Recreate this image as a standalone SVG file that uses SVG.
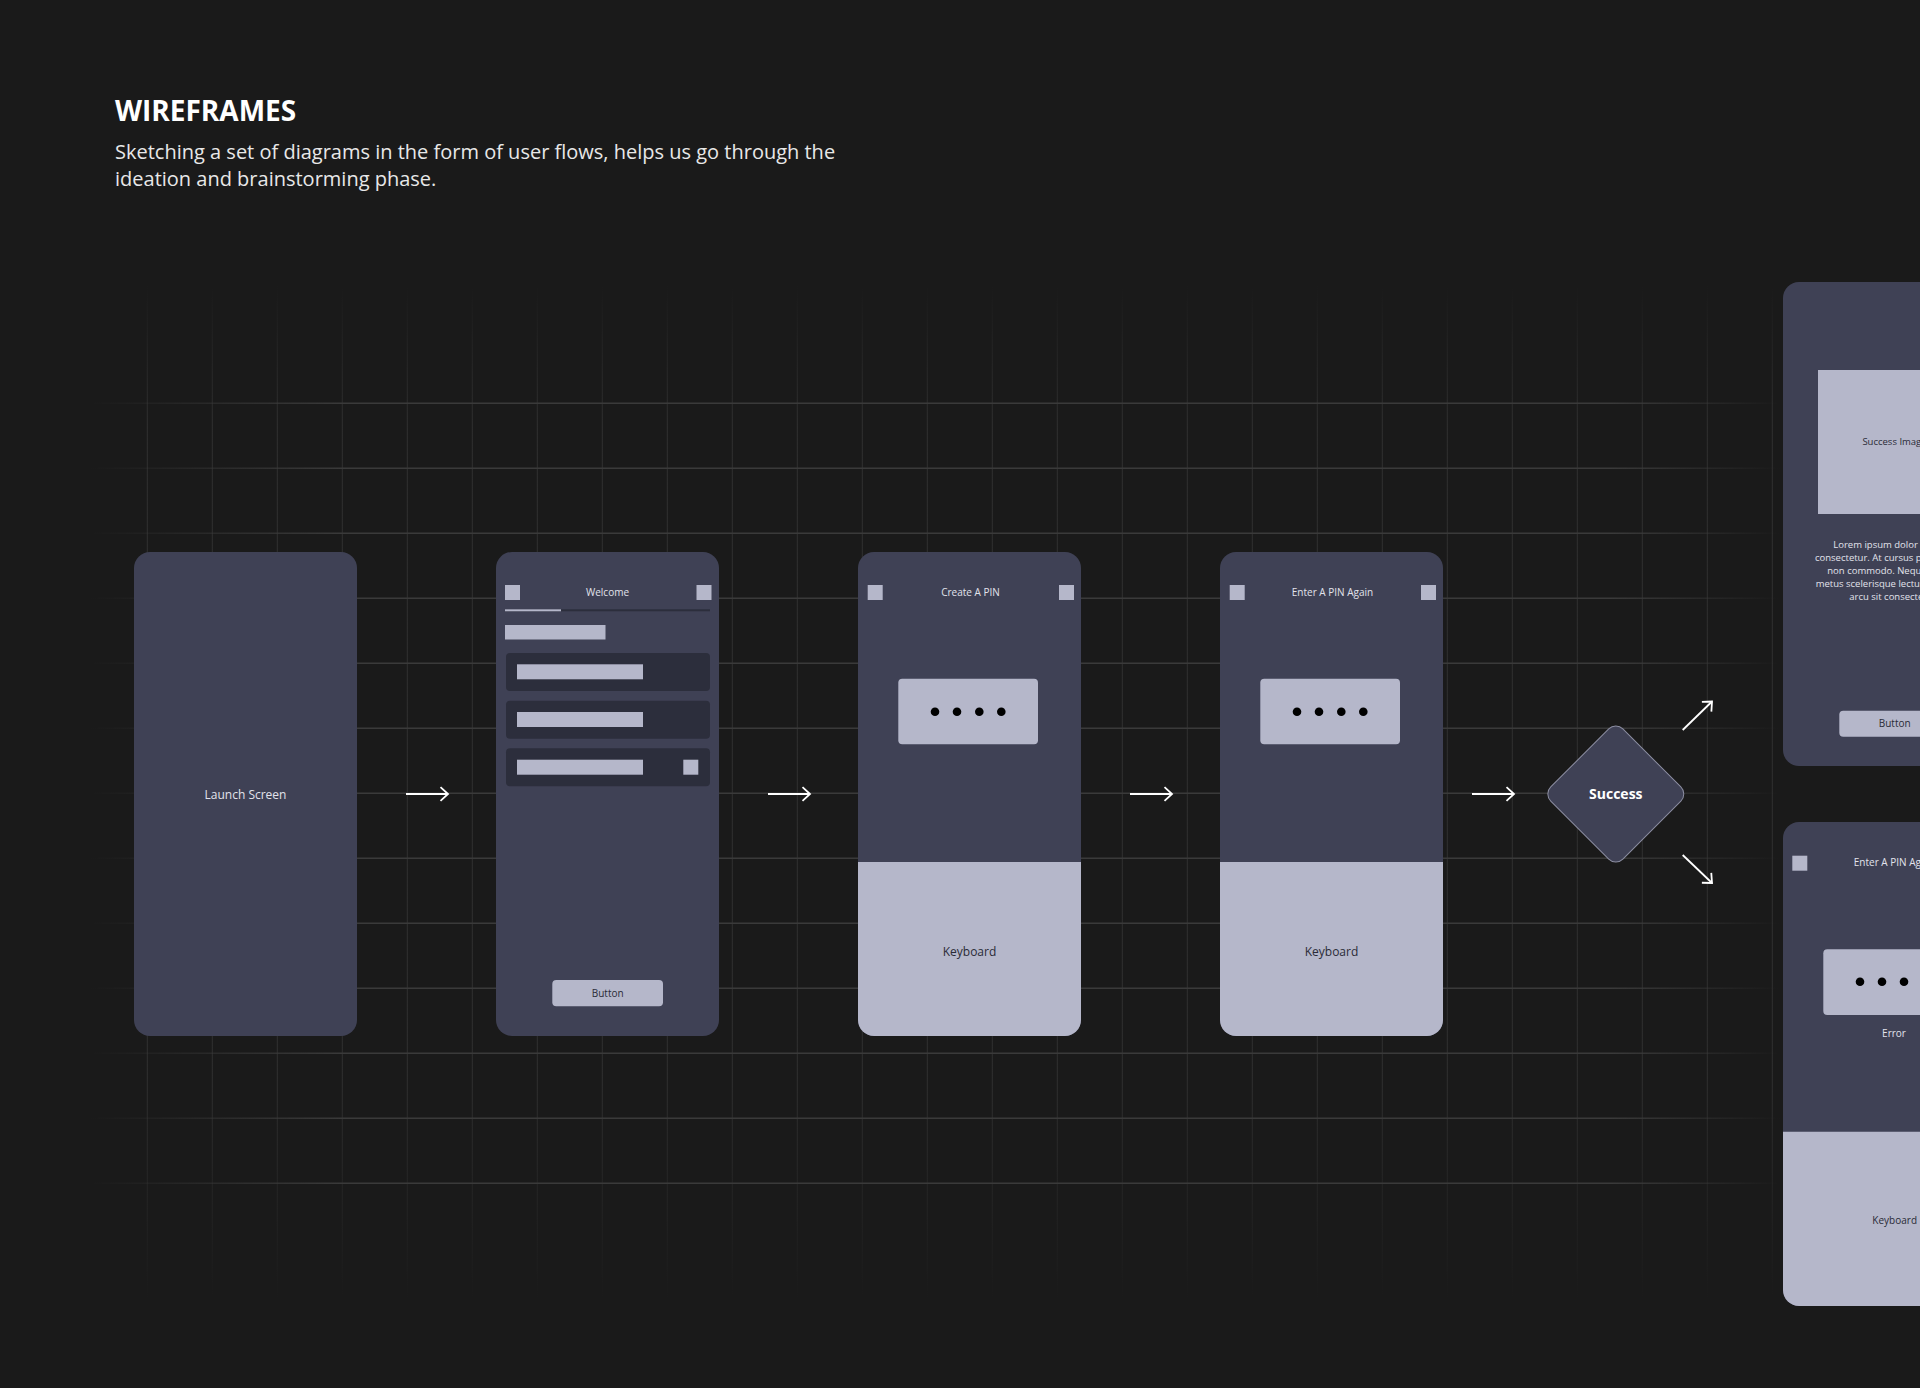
<svg xmlns="http://www.w3.org/2000/svg" width="1920" height="1388" viewBox="0 0 1920 1388">
<defs>
<style>
.bg{fill:#1a1a1a}
.node{fill:#3f4155}
.light{fill:#b5b7ca}
.dark{fill:#2c2e3c}
.hl{stroke:url(#hg);stroke-width:1.6;fill:none}
.vl{stroke:url(#vg);stroke-width:1;fill:none}
.t{font-family:"Open Sans","Noto Sans","Liberation Sans",sans-serif}
.lbl{font-size:10px;fill:#e2e3ec;text-anchor:middle}
.lbl12{font-size:12px;fill:#e2e3ec;text-anchor:middle}
.dlbl{font-size:12px;fill:#2a2b37;text-anchor:middle}
.btn{font-size:10px;fill:#2a2b37;text-anchor:middle}
.conn{stroke:#ffffff;stroke-width:1.8;fill:none;marker-end:url(#arr)}
.dot{fill:#000}
</style>
<linearGradient id="hg" gradientUnits="userSpaceOnUse" x1="90" y1="0" x2="1780" y2="0">
<stop offset="0" stop-color="#3a3a3a" stop-opacity="0"/>
<stop offset="0.15" stop-color="#3a3a3a" stop-opacity="1"/>
<stop offset="0.9" stop-color="#3a3a3a" stop-opacity="1"/>
<stop offset="1" stop-color="#3a3a3a" stop-opacity="0"/>
</linearGradient>
<linearGradient id="vg" gradientUnits="userSpaceOnUse" x1="0" y1="285" x2="0" y2="1300">
<stop offset="0" stop-color="#303030" stop-opacity="0"/>
<stop offset="0.14" stop-color="#303030" stop-opacity="1"/>
<stop offset="0.78" stop-color="#303030" stop-opacity="1"/>
<stop offset="1" stop-color="#303030" stop-opacity="0"/>
</linearGradient>
<marker id="arr" markerUnits="userSpaceOnUse" markerWidth="16" markerHeight="16" viewBox="0 0 16 16" refX="14" refY="8" orient="auto">
<path d="M6.5,1.2 L14,8 L6.5,14.8" fill="none" stroke="#ffffff" stroke-width="1.8"/>
</marker>
</defs>
<rect class="bg" x="0" y="0" width="1920" height="1388"/>

<g id="header" class="t">
<text x="115" y="121" font-size="28" font-weight="700" fill="#ffffff">WIREFRAMES</text>
<text x="115" y="158.5" font-size="20" fill="#e8e8e8">Sketching a set of diagrams in the form of user flows, helps us go through the</text>
<text x="115" y="185.5" font-size="20" fill="#e8e8e8">ideation and brainstorming phase.</text>
</g>

<g id="grid">
<path class="vl" d="M147.3,285V1300M212.3,285V1300M277.3,285V1300M342.3,285V1300M407.3,285V1300M472.3,285V1300M537.3,285V1300M602.3,285V1300M667.3,285V1300M732.3,285V1300M797.3,285V1300M862.3,285V1300M927.3,285V1300M992.3,285V1300M1057.3,285V1300M1122.3,285V1300M1187.3,285V1300M1252.3,285V1300M1317.3,285V1300M1382.3,285V1300M1447.3,285V1300M1512.3,285V1300M1577.3,285V1300M1642.3,285V1300M1707.3,285V1300M1772.3,285V1300"/>
<path class="hl" d="M90,403.3H1780M90,468.3H1780M90,533.3H1780M90,598.3H1780M90,663.3H1780M90,728.3H1780M90,793.3H1780M90,858.3H1780M90,923.3H1780M90,988.3H1780M90,1053.3H1780M90,1118.3H1780M90,1183.3H1780"/>
</g>

<g id="launch-screen" class="t">
<rect class="node" x="134" y="552" width="223" height="484" rx="16"/>
<text class="lbl12" x="245.5" y="799">Launch Screen</text>
</g>

<g id="welcome" class="t">
<rect class="node" x="496" y="552" width="223" height="484" rx="16"/>
<rect class="light" x="505" y="585" width="15" height="15"/>
<rect class="light" x="696.5" y="585" width="15" height="15"/>
<text class="lbl" x="607.5" y="596">Welcome</text>
<rect class="dark" x="505" y="609.3" width="205" height="2"/>
<rect class="light" x="505" y="609.3" width="56" height="2"/>
<rect class="light" x="505" y="625" width="100.5" height="14.5"/>
<rect class="dark" x="506" y="653" width="204" height="38" rx="4"/>
<rect class="light" x="517" y="664.3" width="126" height="15"/>
<rect class="dark" x="506" y="700.7" width="204" height="38" rx="4"/>
<rect class="light" x="517" y="712" width="126" height="15"/>
<rect class="dark" x="506" y="748.3" width="204" height="38" rx="4"/>
<rect class="light" x="517" y="759.7" width="126" height="15"/>
<rect class="light" x="683.3" y="759.7" width="15" height="15"/>
<rect class="light" x="552.3" y="980" width="110.7" height="26.3" rx="4"/>
<text class="btn" x="607.7" y="996.7">Button</text>
</g>

<g id="create-pin" class="t">
<rect class="node" x="858" y="552" width="223" height="484" rx="16"/>
<rect class="light" x="867.7" y="585" width="15" height="15"/>
<rect class="light" x="1059" y="585" width="15" height="15"/>
<text class="lbl" x="970.5" y="596">Create A PIN</text>
<rect class="light" x="898.3" y="678.7" width="139.7" height="65.6" rx="4"/>
<circle class="dot" cx="935" cy="711.7" r="4.3"/>
<circle class="dot" cx="957" cy="711.7" r="4.3"/>
<circle class="dot" cx="979.3" cy="711.7" r="4.3"/>
<circle class="dot" cx="1001.3" cy="711.7" r="4.3"/>
<path class="light" d="M858,862H1081V1020a16,16 0 0 1 -16,16H874a16,16 0 0 1 -16,-16Z"/>
<text class="dlbl" x="969.5" y="956">Keyboard</text>
</g>

<g id="enter-pin-again" class="t">
<rect class="node" x="1220" y="552" width="223" height="484" rx="16"/>
<rect class="light" x="1229.7" y="585" width="15" height="15"/>
<rect class="light" x="1421" y="585" width="15" height="15"/>
<text class="lbl" x="1332.5" y="596">Enter A PIN Again</text>
<rect class="light" x="1260.3" y="678.7" width="139.7" height="65.6" rx="4"/>
<circle class="dot" cx="1297" cy="711.7" r="4.3"/>
<circle class="dot" cx="1319" cy="711.7" r="4.3"/>
<circle class="dot" cx="1341.3" cy="711.7" r="4.3"/>
<circle class="dot" cx="1363.3" cy="711.7" r="4.3"/>
<path class="light" d="M1220,862H1443V1020a16,16 0 0 1 -16,16H1236a16,16 0 0 1 -16,-16Z"/>
<text class="dlbl" x="1331.5" y="956">Keyboard</text>
</g>

<g id="success" class="t">
<rect x="-51" y="-51" width="102" height="102" rx="10" fill="#3f4155" stroke="#8c8ea2" stroke-width="1" transform="translate(1615.8,794) rotate(45)"/>
<text x="1615.8" y="799" font-size="14" font-weight="700" fill="#ffffff" text-anchor="middle">Success</text>
</g>

<g id="success-screen" class="t">
<rect class="node" x="1783" y="282" width="223" height="484" rx="16"/>
<rect class="light" x="1818" y="370" width="153" height="144"/>
<text font-size="9.5" fill="#2a2b37" x="1894.5" y="445" text-anchor="middle">Success Image</text>
<g font-size="9.5" fill="#e2e3ec">
<text x="1833.3" y="548.3">Lorem ipsum dolor sit amet</text>
<text x="1815" y="561.2">consectetur. At cursus pretium</text>
<text x="1827.3" y="574.1">non commodo. Neque in</text>
<text x="1815.7" y="587">metus scelerisque lectus in</text>
<text x="1849.3" y="599.9">arcu sit consectetur.</text>
</g>
<rect class="light" x="1839.3" y="710.7" width="110.7" height="26" rx="4"/>
<text class="btn" x="1894.7" y="727">Button</text>
</g>

<g id="error-screen" class="t">
<rect class="node" x="1783" y="822" width="223" height="484" rx="16"/>
<rect class="light" x="1792.3" y="855.7" width="15" height="15"/>
<text class="lbl" x="1894.5" y="866">Enter A PIN Again</text>
<rect class="light" x="1823.3" y="949.3" width="139.7" height="65.6" rx="4"/>
<circle class="dot" cx="1860" cy="981.7" r="4.3"/>
<circle class="dot" cx="1882" cy="981.7" r="4.3"/>
<circle class="dot" cx="1904" cy="981.7" r="4.3"/>
<text class="lbl" x="1894" y="1036.7" fill="#c9cad6">Error</text>
<path class="light" d="M1783,1131.7H2006V1290a16,16 0 0 1 -16,16H1799a16,16 0 0 1 -16,-16Z"/>
<text class="btn" x="1894.7" y="1223.5">Keyboard</text>
</g>

<g id="connectors">
<path class="conn" d="M406,794H448"/>
<path class="conn" d="M768,794H810"/>
<path class="conn" d="M1130,794H1172"/>
<path class="conn" d="M1472,794H1514"/>
<path class="conn" d="M1682.7,730L1712,701.5"/>
<path class="conn" d="M1682.7,855L1712,883"/>
</g>
</svg>
